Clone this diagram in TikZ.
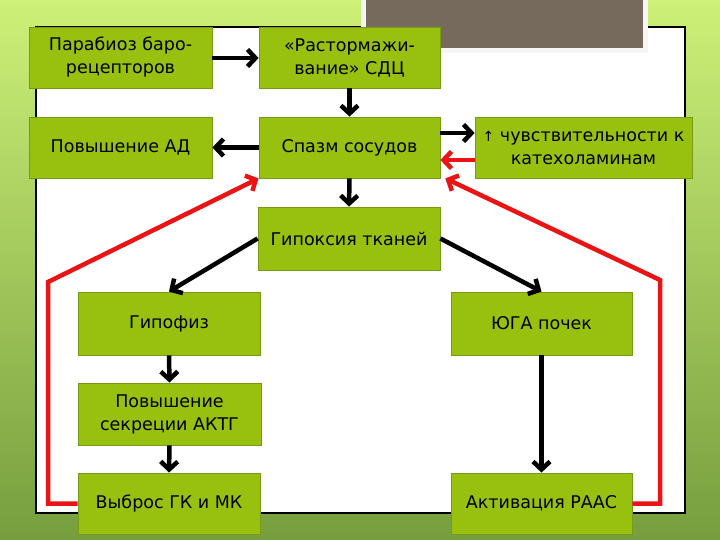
\documentclass[tikz,border=0pt]{standalone}
\usepackage{fontspec}
\setmainfont{DejaVu Sans}
\usetikzlibrary{arrows.meta,calc}
\definecolor{boxgreen}{RGB}{151,193,14}
\definecolor{boxedge}{RGB}{118,155,20}
\definecolor{bgtop}{RGB}{205,240,120}
\definecolor{bgbot}{RGB}{118,158,62}
\definecolor{grayrect}{RGB}{118,106,92}
\definecolor{redline}{RGB}{235,20,20}
\tikzset{
  gbox/.style={draw=boxedge, line width=0.8pt, fill=boxgreen, rectangle, inner sep=1pt,
    minimum height=61pt, align=center, font=\fontsize{17.5}{23}\selectfont, text=black},
  blk/.style={line width=4.5pt, draw=black, -{Straight Barb[length=8pt,width=17pt]}},
  rd/.style={line width=4.5pt, draw=redline, line join=miter, -{Straight Barb[length=8pt,width=17pt]}}
}
\begin{document}
\begin{tikzpicture}[x=1pt,y=-1pt]
\useasboundingbox (0,0) rectangle (720,540);
% background
\shade[top color=bgtop, bottom color=bgbot] (0,0) rectangle (720,540);
% panel
\draw[fill=white, draw=black, line width=1.2pt] (36,27) rectangle (685,513);
% gray picture
\fill[white!92!gray] (361,0) rectangle (648,53);
\fill[grayrect] (366,0) rectangle (643,48);
% boxes
\node[gbox, minimum width=183pt] (par)   at (120.5,57.5) {Парабиоз баро-\\рецепторов};
\node[gbox, minimum width=181pt] (rast)  at (349.5,57.5) {«Растормажи-\\вание» СДЦ};
\node[gbox, minimum width=183pt] (povad) at (120.5,147.5) {Повышение АД};
\node[gbox, minimum width=181pt] (spazm) at (349.5,147.5) {Спазм сосудов};
\node[gbox, minimum width=217pt] (chuv)  at (583.5,147.5) {{\fontsize{14}{23}\selectfont↑} чувствительности к\\катехоламинам};
\node[gbox, minimum width=182pt, minimum height=63pt] (gipox) at (349,238.5) {Гипоксия тканей};
\node[gbox, minimum width=182pt, minimum height=63pt] (gipof) at (169,323.5) {Гипофиз};
\node[gbox, minimum width=181pt, minimum height=63pt] (yuga)  at (541.5,323.5) {ЮГА почек};
\node[gbox, minimum width=183pt, minimum height=62pt] (akth)  at (169.5,414) {Повышение\\секреции АКТГ};
\node[gbox, minimum width=182pt] (vybr)  at (169,503.5) {Выброс ГК и МК};
\node[gbox, minimum width=181pt] (aktiv) at (541.5,503.5) {Активация РААС};
% black arrows
\draw[blk] (par.east |- 0,58) -- (rast.west |- 0,58);
\draw[blk] (rast.south) -- (spazm.north);
\draw[blk] (spazm.west) -- (povad.east);
\draw[blk] (spazm.east |- 0,133) -- (chuv.west |- 0,133);
\draw[blk] (spazm.south) -- (gipox.north);
\draw[blk] (gipox.west) -- (gipof.north);
\draw[blk] (gipox.east) -- (yuga.north);
\draw[blk] (gipof.south) -- (akth.north);
\draw[blk] (akth.south) -- (vybr.north);
\draw[blk] (yuga.south) -- (aktiv.north);
% red arrows
\coordinate (lc) at (48,282);
\coordinate (rc) at (660,280);
\draw[rd] (chuv.west |- 0,160) -- (spazm.east |- 0,160);
\draw[rd] (vybr.west) -| (lc) -- (spazm.south west);
\draw[rd] (aktiv.east) -| (rc) -- ($(spazm.south east)+(5,0)$);
\end{tikzpicture}
\end{document}
